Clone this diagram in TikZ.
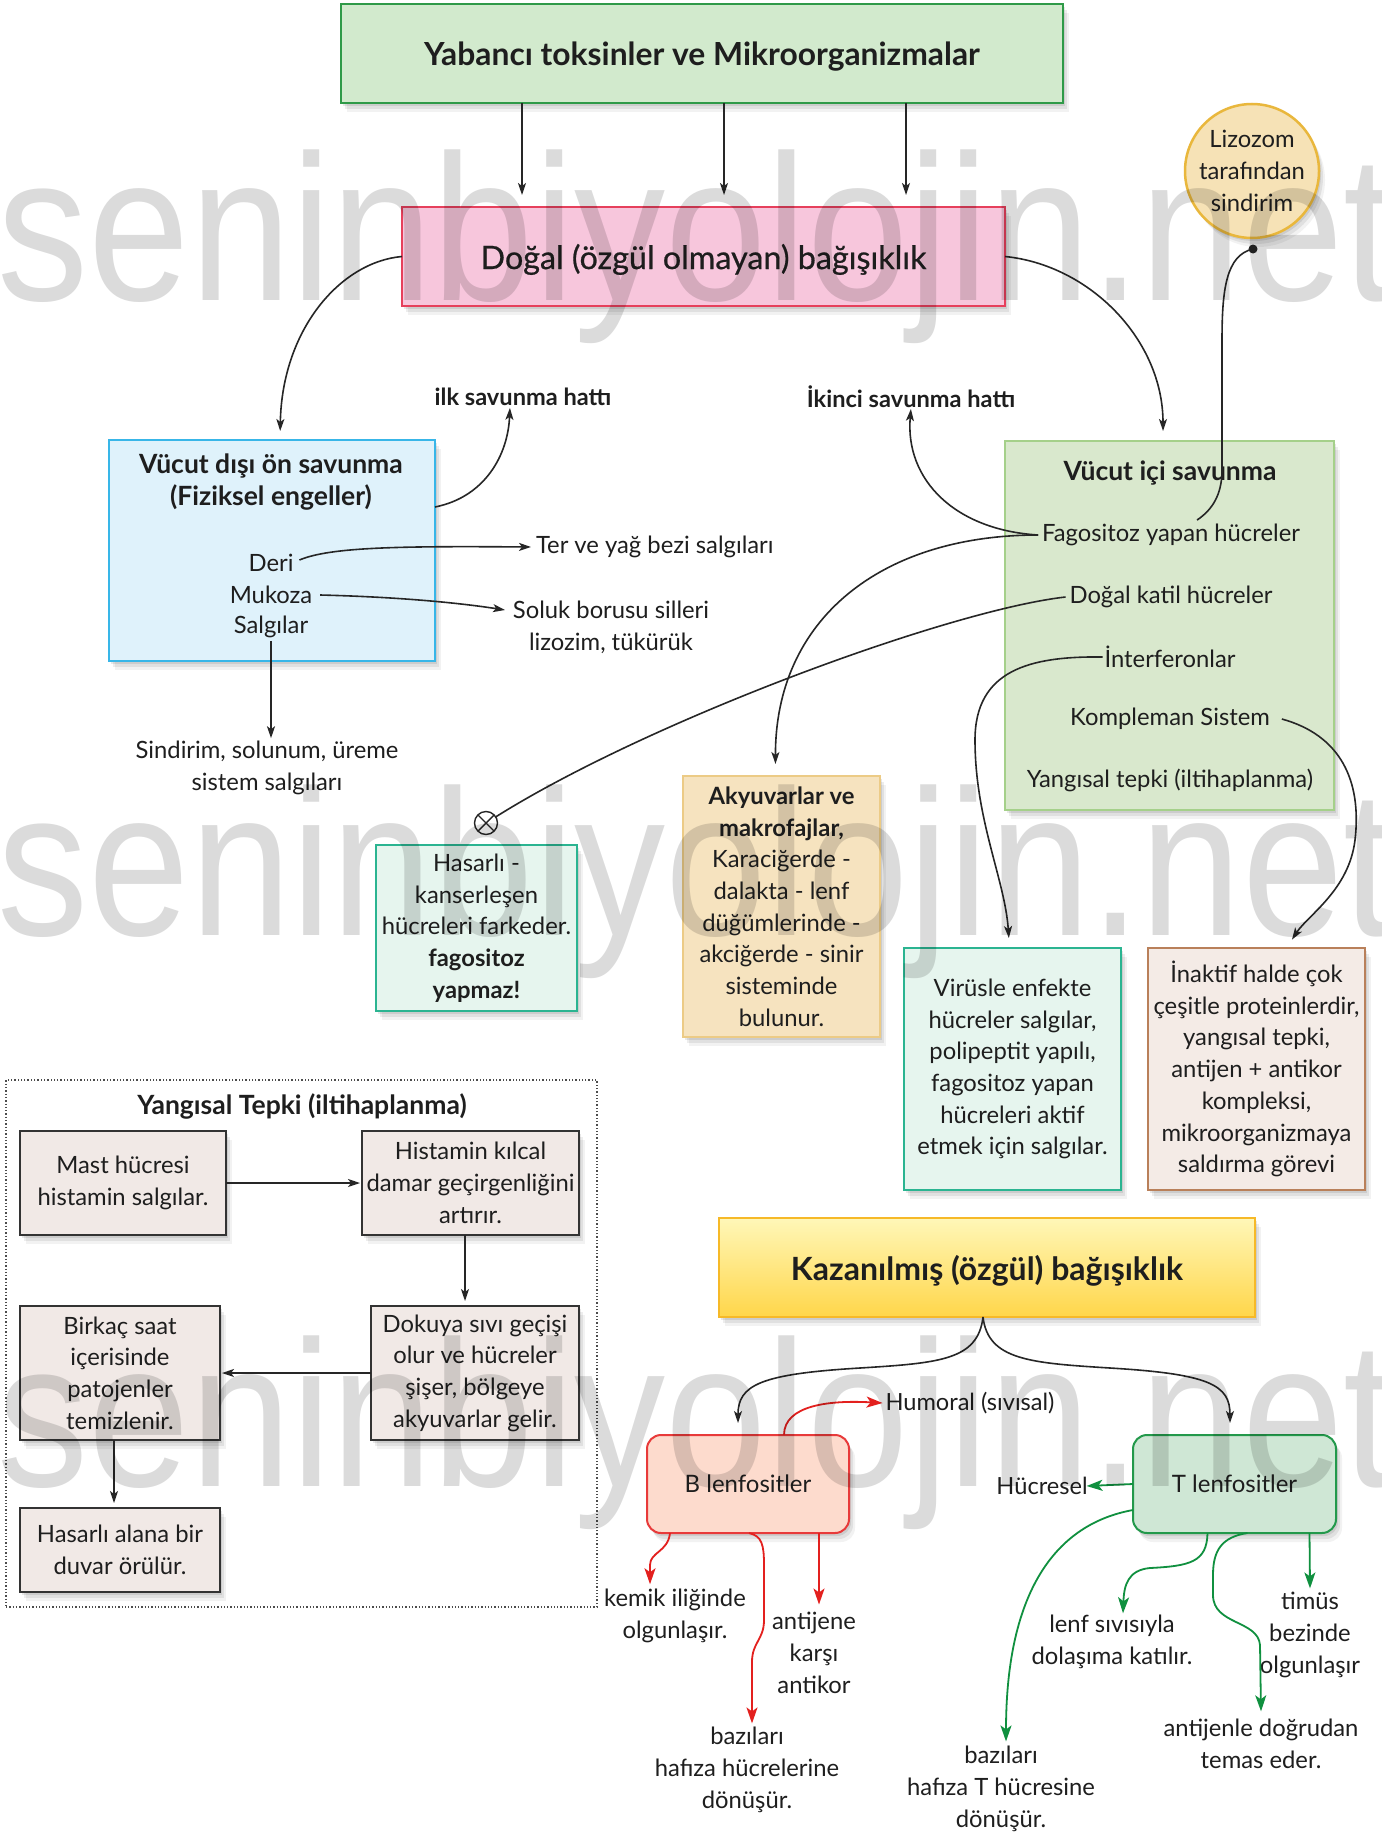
\documentclass[tikz,border=0pt]{standalone}
\usepackage{fontspec}
\setmainfont{Lato}
\newfontfamily\wmfont{Liberation Sans}
\newfontfamily\latomed[FakeBold=0.6]{Lato}
\usetikzlibrary{arrows.meta,shadows,calc}
\newcommand\bodyfs{\fontsize{23.8}{31.7}\selectfont}
\newcommand\ttlfs{\fontsize{26.5}{32.5}\selectfont\bfseries}
\definecolor{topfill}{HTML}{D2EACD}\definecolor{topdraw}{HTML}{2F9A48}
\definecolor{pinkfill}{HTML}{F7C6DC}\definecolor{pinkdraw}{HTML}{E6405C}
\definecolor{bluefill}{HTML}{DFF2FB}\definecolor{bluedraw}{HTML}{38B6E8}
\definecolor{vicfill}{HTML}{D9E8CD}\definecolor{vicdraw}{HTML}{A5D08A}
\definecolor{lizfill}{HTML}{F6E2B6}\definecolor{lizdraw}{HTML}{E9B73C}
\definecolor{mintfill}{HTML}{E6F5EE}\definecolor{mintdraw}{HTML}{2BB491}
\definecolor{tanfill}{HTML}{F6E3BF}\definecolor{tandraw}{HTML}{ECCB86}
\definecolor{inafill}{HTML}{F4EBE6}\definecolor{inadraw}{HTML}{B9805A}
\definecolor{yfill}{HTML}{F1E9E6}\definecolor{ydraw}{HTML}{333333}
\definecolor{kaztop}{HTML}{FFF7B8}\definecolor{kazbot}{HTML}{FFD64A}\definecolor{kazdraw}{HTML}{F6B928}
\definecolor{bfill}{HTML}{FDDBCD}\definecolor{bdraw}{HTML}{E83A3A}
\definecolor{tfill}{HTML}{CFE7D5}\definecolor{tdraw}{HTML}{23994B}
\definecolor{myred}{HTML}{E3201E}\definecolor{mygreen}{HTML}{10903F}
\definecolor{txt}{HTML}{1E1E1E}
\begin{document}
\begin{tikzpicture}[x=1pt,y=-1pt,
  every node/.style={inner sep=0pt, outer sep=0pt, align=center, font=\bodyfs, text=txt},
  shad/.style={drop shadow={shadow xshift=2pt,shadow yshift=-3pt,opacity=0.09,fill=black},
               drop shadow={shadow xshift=4pt,shadow yshift=-6pt,opacity=0.07,fill=black},
               drop shadow={shadow xshift=6pt,shadow yshift=-9pt,opacity=0.05,fill=black}},
  arr/.style={draw=black!85, line width=1.6pt, -{Stealth[length=12pt,width=8pt,inset=3pt]}},
  plain/.style={draw=black!85, line width=1.6pt},
  redarr/.style={color=myred, line width=1.8pt, -{Stealth[length=16pt,width=11pt,inset=4pt]}},
  grnarr/.style={color=mygreen, line width=1.8pt, -{Stealth[length=16pt,width=11pt,inset=4pt]}},
  ybox/.style={shad, draw=ydraw, fill=yfill, line width=2pt},
  wm/.style={anchor=base west, font=\wmfont\fontsize{208}{208}\selectfont, text=black, text opacity=0.14, xscale=0.875}
]
\useasboundingbox (0,0) rectangle (1381,1838);
\fill[white] (0,0) rectangle (1381,1838);

% ---------- top ----------
\node[shad, draw=topdraw, fill=topfill, line width=2.5pt, minimum width=722pt, minimum height=99pt, text depth=0pt,
  font=\fontsize{31.8}{36}\selectfont\bfseries] (top) at (702,53.5) {Yabancı toksinler ve Mikroorganizmalar};
\node[shad, draw=pinkdraw, fill=pinkfill, line width=2pt, minimum width=603pt, minimum height=99pt, text depth=0pt,
  font=\latomed\fontsize{32.3}{36}\selectfont] (pink) at (703.5,256.5) {Doğal (özgül olmayan) bağışıklık};

\draw[arr, shorten >=12pt] ([xshift=-180pt]top.south) -- ([xshift=-181.5pt]pink.north);
\draw[arr, shorten >=12pt] ([xshift=22pt]top.south) -- ([xshift=20.5pt]pink.north);
\draw[arr, shorten >=12pt] ([xshift=204pt]top.south) -- ([xshift=202.5pt]pink.north);

% ---------- blue ----------
\node[shad, draw=bluedraw, fill=bluefill, line width=2.5pt, minimum width=326pt, minimum height=221pt] (blue) at (272,550.5) {};
\node[font=\ttlfs] (bluet) at (271,482) {Vücut dışı ön savunma\\(Fiziksel engeller)};
\node (deri) at (271,563) {Deri};
\node (muk) at (271,595) {Mukoza};
\node (salg) at (271,627) {Salgılar};

\node[font=\fontsize{23.6}{27}\selectfont\bfseries] (ilk) at (523,397) {ilk savunma hattı};
\node[font=\fontsize{23.6}{27}\selectfont\bfseries] (iki) at (911,397) {İkinci savunma hattı};
\node[anchor=west] (ter) at (536,547) {Ter ve yağ bezi salgıları};
\node (sol1) at (611,610) {Soluk borusu silleri};
\node (sol2) at (611,643) {lizozim, tükürük};
\node (sind) at (267,768) {Sindirim, solunum, üreme\\sistem salgıları};

% ---------- green ----------
\node[shad, draw=vicdraw, fill=vicfill, line width=2pt, minimum width=329pt, minimum height=369pt] (vic) at (1169.5,625.5) {};
\node[font=\ttlfs] (vict) at (1170,473) {Vücut içi savunma};
\node (fag) at (1171,535) {Fagositoz yapan hücreler};
\node (dk) at (1171,597) {Doğal katil hücreler};
\node (intf) at (1170,657) {İnterferonlar};
\node (komp) at (1170,719) {Kompleman Sistem};
\node (yang) at (1170,780) {Yangısal tepki (iltihaplanma)};

\node[shad, circle, draw=lizdraw, fill=lizfill, line width=2.5pt, minimum size=134pt] (liz) at (1252,171) {Lizozom\\tarafından\\sindirim};
\node[circle, fill=black!85, minimum size=9pt] (dot) at (1253,249) {};

% ---------- middle boxes ----------
\node[shad, draw=mintdraw, fill=mintfill, line width=2pt, minimum width=201pt, minimum height=166pt] (has) at (476.5,928)
  {Hasarlı -\\kanserleşen\\hücreleri farkeder.\\\textbf{fagositoz}\\\textbf{yapmaz!}};
\node[shad, draw=tandraw, fill=tanfill, line width=2pt, minimum width=197pt, minimum height=261pt] (aky) at (781.5,906.5)
  {\textbf{Akyuvarlar ve}\\\textbf{makrofajlar,}\\Karaciğerde -\\dalakta - lenf\\düğümlerinde -\\akciğerde - sinir\\sisteminde\\bulunur.};
\node[shad, draw=mintdraw, fill=mintfill, line width=2pt, minimum width=217pt, minimum height=242pt] (vir) at (1012.5,1069)
  {Virüsle enfekte\\hücreler salgılar,\\polipeptit yapılı,\\fagositoz yapan\\hücreleri aktif\\etmek için salgılar.};
\node[shad, draw=inadraw, fill=inafill, line width=2pt, minimum width=217pt, minimum height=242pt] (ina) at (1256.5,1069)
  {İnaktif halde çok\\çeşitle proteinlerdir,\\yangısal tepki,\\antijen + antikor\\kompleksi,\\mikroorganizmaya\\saldırma görevi};
\node[circle, draw=black!85, line width=1.4pt, minimum size=23pt] (ox) at (486,823) {};
\draw[line width=1.4pt, black!85] (ox.north east) -- (ox.south west) (ox.north west) -- (ox.south east);

% ---------- connectors upper ----------
\draw[arr, shorten >=9pt] (pink.west) .. controls (340,262) and (282,330) .. ([xshift=8pt]blue.north);
\draw[arr, shorten >=10pt] (pink.east) .. controls (1090,265) and (1163,340) .. ([xshift=-6.5pt]vic.north);
\draw[arr, shorten >=2pt] ([yshift=43.5pt]blue.east) .. controls (485,497) and (508,455) .. ([xshift=-13pt]ilk.south);
\draw[arr] ([xshift=6pt,yshift=3pt]deri.east) .. controls (330,547) and (400,546) .. ([xshift=-5pt]ter.west);
\draw[arr] ([xshift=8pt]muk.east) .. controls (400,597) and (460,603) .. ([xshift=-8pt]sol1.west);
\draw[arr, shorten >=3pt, shorten <=3pt] (salg.south) -- (salg.south |- sind.north);
\draw[arr, shorten >=1pt] ([xshift=-4pt]fag.west) .. controls (955,530) and (905,480) .. (iki.south);
\draw[arr, shorten >=12pt] ([xshift=-4pt]fag.west) .. controls (880,535) and (775,620) .. ([xshift=-6pt]aky.north);
\draw[plain] ([xshift=-4pt]dk.west) .. controls (950,610) and (650,720) .. (ox);
\draw[arr, shorten >=10pt] ([xshift=-2pt]intf.west) .. controls (1030,656) and (975,670) .. (975,740)
   .. controls (975,820) and (1005,880) .. ([xshift=-3pt]vir.north);
\draw[arr, shorten >=10pt] ([xshift=12pt]komp.east) .. controls (1340,735) and (1362,780) .. (1355,840)
   .. controls (1349,890) and (1308,915) .. ([xshift=30pt]ina.north);
\draw[plain] (dot.center) .. controls (1226,255) and (1222,290) .. (1222,340) -- (1222,470)
   .. controls (1222,495) and (1212,510) .. ([xshift=26pt,yshift=4pt]fag.north);

% ---------- Yangisal tepki ----------
\node[draw=black!70, dotted, line width=1.3pt, minimum width=591pt, minimum height=527pt] (yb) at (301.5,1343.5) {};
\node[font=\ttlfs] (ytitle) at (302,1106) {Yangısal Tepki (iltihaplanma)};
\node[ybox, minimum width=206pt, minimum height=104pt] (mast) at (123,1183) {Mast hücresi\\histamin salgılar.};
\node[ybox, minimum width=217pt, minimum height=104pt] (hist) at (470.5,1183) {Histamin kılcal\\damar geçirgenliğini\\artırır.};
\node[ybox, minimum width=208pt, minimum height=134pt] (dok) at (475,1373) {Dokuya sıvı geçişi\\olur ve hücreler\\şişer, bölgeye\\akyuvarlar gelir.};
\node[ybox, minimum width=200pt, minimum height=134pt] (birk) at (120,1373) {Birkaç saat\\içerisinde\\patojenler\\temizlenir.};
\node[ybox, minimum width=200pt, minimum height=84pt] (hasal) at (120,1550) {Hasarlı alana bir\\duvar örülür.};
\draw[arr, shorten >=2pt] (mast.east) -- (hist.west);
\draw[arr, shorten >=5pt] ([xshift=-5.5pt]hist.south) -- ([xshift=-10pt]dok.north);
\draw[arr, shorten >=2pt] (dok.west) -- (birk.east);
\draw[arr, shorten >=5pt] ([xshift=-6pt]birk.south) -- ([xshift=-6pt]hasal.north);

% ---------- Kazanilmis ----------
\node[shad, draw=kazdraw, top color=kaztop, bottom color=kazbot, line width=2.5pt, minimum width=536pt, minimum height=99pt, text depth=0pt,
  font=\fontsize{32}{36}\selectfont\bfseries] (kaz) at (987,1267.5) {Kazanılmış (özgül) bağışıklık};
\node[shad, rounded corners=14pt, draw=bdraw, fill=bfill, line width=2pt, minimum width=202pt, minimum height=98pt,
  font=\fontsize{24}{28}\selectfont] (B) at (748,1484) {B lenfositler};
\node[shad, rounded corners=14pt, draw=tdraw, fill=tfill, line width=2pt, minimum width=203pt, minimum height=98pt,
  font=\fontsize{24}{28}\selectfont] (T) at (1234.5,1484) {T lenfositler};
\draw[arr, shorten >=12pt] ([xshift=-4pt]kaz.south) .. controls (978,1360) and (940,1363) .. (860,1368)
   .. controls (760,1374) and (738,1385) .. ([xshift=-10pt]B.north);
\draw[arr, shorten >=12pt] ([xshift=-4pt]kaz.south) .. controls (988,1360) and (1030,1363) .. (1110,1368)
   .. controls (1210,1374) and (1230,1385) .. ([xshift=-4.5pt]T.north);

\node[font=\fontsize{23.6}{28}\selectfont] (hum) at (970,1403) {Humoral (sıvısal)};
\node[font=\fontsize{23.6}{28}\selectfont] (huc) at (1042,1486) {Hücresel};
\draw[redarr] ([xshift=36pt]B.north) .. controls (784,1405) and (830,1400) .. ([xshift=-3pt]hum.west);
\draw[grnarr] (T.west) -- ([xshift=-1pt]huc.east);

\node (kem) at (675,1616) {kemik iliğinde\\olgunlaşır.};
\node (ant) at (814,1653) {antijene\\karşı\\antikor};
\node (baz1) at (747,1770) {bazıları\\hafıza hücrelerine\\dönüşür.};
\node (bazT) at (1001,1789) {bazıları\\hafıza T hücresine\\dönüşür.};
\node (lenf) at (1112,1642) {lenf sıvısıyla\\dolaşıma katılır.};
\node (tim) at (1310,1635) {timüs\\bezinde\\olgunlaşır};
\node (antj) at (1261,1744) {antijenle doğrudan\\temas eder.};

\draw[redarr] ([xshift=-78pt]B.south) .. controls (668,1552) and (650,1552) .. (650,1565) -- ([xshift=-25pt,yshift=5pt]kem.north);
\draw[redarr] ([xshift=1pt]B.south) .. controls (762,1536) and (764,1545) .. (764,1565) -- (764,1620)
   .. controls (764,1640) and (752,1642) .. (752,1662) -- ([xshift=5pt,yshift=4pt]baz1.north);
\draw[redarr] ([xshift=71pt]B.south) -- ([xshift=5pt,yshift=8pt]ant.north);

\draw[grnarr] ([yshift=-26pt]T.west) .. controls (1050,1525) and (1006,1600) .. ([xshift=5pt,yshift=5pt]bazT.north);
\draw[grnarr] ([xshift=-27pt]T.south) .. controls (1207,1562) and (1190,1566) .. (1150,1568)
   .. controls (1128,1570) and (1124,1585) .. ([xshift=11pt,yshift=2pt]lenf.north);
\draw[grnarr] ([xshift=13pt]T.south) .. controls (1222,1537) and (1213,1550) .. (1213,1575) -- (1213,1595)
   .. controls (1213,1625) and (1258,1620) .. (1260,1645) -- ([yshift=8pt]antj.north);
\draw[grnarr] ([xshift=75pt]T.south) -- ([yshift=4pt]tim.north);

% ---------- watermark ----------
\node[wm] (wm1) at (-2,300) {seninbiyolojin.net};
\node[wm] (wm2) at (-2,935) {seninbiyolojin.net};
\node[wm] (wm3) at (-2,1486) {seninbiyolojin.net};
\end{tikzpicture}
\end{document}
